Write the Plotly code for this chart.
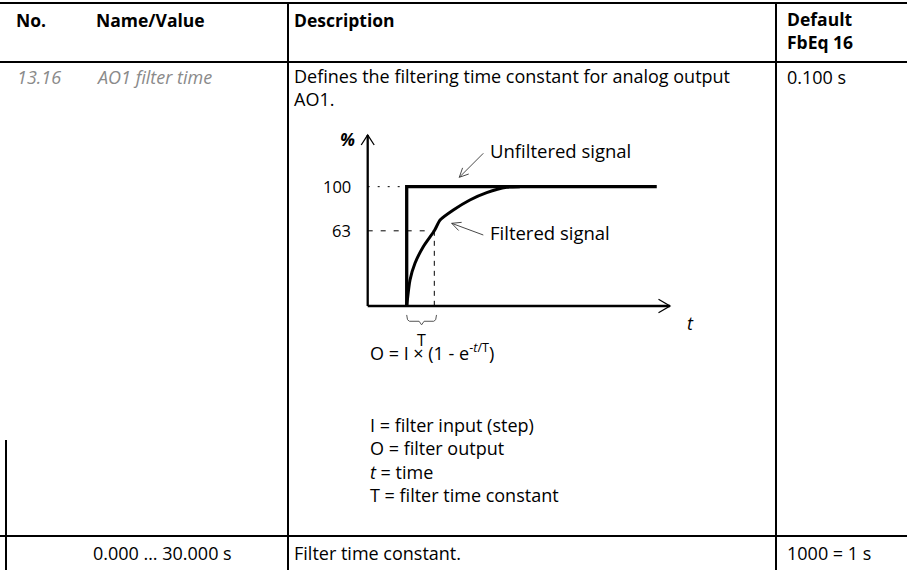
import math
import plotly.graph_objects as go

# ---------------- data ----------------
header_labels = ["No.", "Name/Value", "Description", "Default<br>FbEq 16"]
param_no = "13.16"
param_name = "AO1 filter time"
param_desc_lines = ["Defines the filtering time constant for analog output", "AO1."]
param_default = "0.100 s"
value_range = "0.000 … 30.000 s"
value_desc = "Filter time constant."
value_scale = "1000 = 1 s"

# diagram (t in units of T, y in %)
level_ticks = [100, 63]
level_tick_labels = ["100", "63"]
step_t = [0, 0, 9.06]
step_pct = [0, 100, 100]
filtered_t = [0, 0.12, 0.30, 0.60, 1.00, 1.21, 1.69, 2.29, 2.90, 3.62, 4.10]
filtered_pct = [0, 21.8, 35.8, 49.7, 63.0, 72.0, 80.4, 88.8, 95.0, 99.5, 100]
axis_t = [-1.413, 9.54]
axis_pct = [0, 143.3]
unfiltered_label = "Unfiltered signal"
filtered_label = "Filtered signal"
formula = "O = I × (1 - e<sup>-<i>t</i>/T</sup>)"
legend_lines = [
    "I = filter input (step)",
    "O = filter output",
    "<i>t</i> = time",
    "T = filter time constant",
]

# ---------------- layout constants ----------------
W, H = 907, 570
X0_PX = 406.7   # pixel of t = 0
Y0_PX = 306.0   # pixel of 0 %
KX = 27.6       # px per T
KY = 1.1933     # px per %

def t_of(px):
    return (px - X0_PX) / KX

def p_of(py):
    return (Y0_PX - py) / KY

FONT = "Open Sans"
FS = 18
FSB = 17.5
BLACK = "#000000"
GREY_TXT = "#8a8a8a"

fig = go.Figure()

# ---------------- table lines ----------------
row_lines = [3, 62, 536]
col_lines = [288, 776]
for y in row_lines:
    fig.add_shape(type="line", xref="x", yref="y", x0=0, x1=W, y0=y, y1=y,
                  line=dict(color=BLACK, width=2.2 if y == 3 else 2))
for x in col_lines:
    fig.add_shape(type="line", xref="x", yref="y", x0=x, x1=x, y0=2, y1=H,
                  line=dict(color=BLACK, width=2))
fig.add_shape(type="line", xref="x", yref="y", x0=6, x1=6, y0=440, y1=H,
              line=dict(color=BLACK, width=2))

# ---------------- text helper ----------------
def txt(x, y, s, size=FS, color=BLACK, bold=False, italic=False, xanchor="left", yanchor="middle"):
    if bold:
        s = "<b>" + s.replace("<br>", "</b><br><b>") + "</b>"
    if italic:
        s = "<i>" + s + "</i>"
    fig.add_annotation(x=x, y=y, xref="x", yref="y", text=s, showarrow=False,
                       xanchor=xanchor, yanchor=yanchor, align="left",
                       font=dict(family=FONT, size=size, color=color))

hx = [14, 94, 292, 785]
txt(hx[0], 20, header_labels[0], size=FSB, bold=True)
txt(hx[1], 20, header_labels[1], size=FSB, bold=True)
txt(hx[2], 20, header_labels[2], size=FSB, bold=True)
txt(hx[3], 30, header_labels[3], size=FSB, bold=True)

txt(15, 77, param_no, color=GREY_TXT, italic=True)
txt(94, 77, param_name, color=GREY_TXT, italic=True)
txt(292, 62, "<br>".join(param_desc_lines), yanchor="top")
txt(785, 77, param_default)

txt(91, 553, value_range)
txt(292, 553, value_desc)
txt(785, 553, value_scale)

# ---------------- diagram ----------------
d = dict(xaxis="x2", yaxis="y2", mode="lines", hoverinfo="skip", showlegend=False)

# axes
fig.add_trace(go.Scatter(x=[axis_t[0], axis_t[0]], y=[axis_pct[0], axis_pct[1]], line=dict(color=BLACK, width=2.3), **d))
fig.add_trace(go.Scatter(x=[axis_t[0], axis_t[1]], y=[0, 0], line=dict(color=BLACK, width=2.3), **d))
# arrow chevrons
fig.add_trace(go.Scatter(x=[axis_t[0] - 6.5 / KX, axis_t[0], axis_t[0] + 6.5 / KX],
                         y=[axis_pct[1] - 10 / KY, axis_pct[1], axis_pct[1] - 10 / KY],
                         line=dict(color=BLACK, width=1.3), **d))
fig.add_trace(go.Scatter(x=[axis_t[1] - 11.5 / KX, axis_t[1], axis_t[1] - 11.5 / KX],
                         y=[6.7 / KY, 0, -6.7 / KY],
                         line=dict(color=BLACK, width=1.3), **d))

# dashed guides
fig.add_trace(go.Scatter(x=[axis_t[0], 0], y=[level_ticks[0]] * 2, line=dict(color=BLACK, width=1, dash="2px,8px"), **d))
fig.add_trace(go.Scatter(x=[axis_t[0], 1.0], y=[level_ticks[1]] * 2, line=dict(color=BLACK, width=1, dash="5px,8px"), **d))
fig.add_trace(go.Scatter(x=[1.0, 1.0], y=[level_ticks[1], 0], line=dict(color=BLACK, width=1, dash="5px,5px"), **d))

# signals
fig.add_trace(go.Scatter(x=step_t, y=step_pct, line=dict(color=BLACK, width=3.3), **d))
fig.add_trace(go.Scatter(x=filtered_t, y=filtered_pct, line=dict(color=BLACK, width=3, shape="spline", smoothing=0.6), **d))

# brace under T
fig.add_trace(go.Scatter(x=[0, 0.03, 0.10, 0.45, 0.54, 0.63, 0.98, 1.05, 1.08],
                         y=[-7.5, -11.5, -12.8, -12.8, -15.8, -12.8, -12.8, -11.5, -7.5],
                         line=dict(color="#555555", width=1), **d))

# pointer arrows (thin, open chevrons)
def pointer(tail_px, tip_px):
    tx, ty = tail_px
    hx_, hy_ = tip_px
    ang = math.atan2(ty - hy_, tx - hx_)
    L = 10
    a1 = ang + 0.45
    a2 = ang - 0.45
    xs = [t_of(tx), t_of(hx_), None,
          t_of(hx_ + L * math.cos(a1)), t_of(hx_), t_of(hx_ + L * math.cos(a2))]
    ys = [p_of(ty), p_of(hy_), None,
          p_of(hy_ + L * math.sin(a1)), p_of(hy_), p_of(hy_ + L * math.sin(a2))]
    fig.add_trace(go.Scatter(x=xs, y=ys, line=dict(color="#333333", width=0.9), **d))

pointer((483.3, 153.3), (459.3, 177.3))
pointer((483.3, 235.0), (451.7, 223.3))

# diagram text
for v, lab in zip(level_ticks, level_tick_labels):
    txt(353, Y0_PX - v * KY, lab, size=16.5, xanchor="right")
txt(347.5, 139, "%", size=FSB, bold=True, italic=True, xanchor="center")
txt(488, 150, unfiltered_label, size=18.5)
txt(488, 232, filtered_label, size=18.5)
txt(690, 323, "<i>t</i>", xanchor="center")
txt(421.7, 340, "T", size=16, xanchor="center")
txt(368, 352, formula)
txt(368, 411, "<br>".join(legend_lines), yanchor="top")

fig.update_layout(
    width=W, height=H,
    margin=dict(l=0, r=0, t=0, b=0),
    paper_bgcolor="white", plot_bgcolor="white",
    xaxis=dict(range=[0, W], visible=False, domain=[0, 1], fixedrange=True),
    yaxis=dict(range=[H, 0], visible=False, domain=[0, 1], fixedrange=True),
    xaxis2=dict(range=[t_of(0), t_of(W)], visible=False, overlaying="x", anchor="y2", fixedrange=True),
    yaxis2=dict(range=[p_of(H), p_of(0)], visible=False, overlaying="y", anchor="x2", fixedrange=True),
    showlegend=False,
)

fig.write_html("out.html", config={"displayModeBar": False},
               post_script="document.body.style.margin='0';document.body.style.padding='0';document.body.style.overflow='hidden';")
